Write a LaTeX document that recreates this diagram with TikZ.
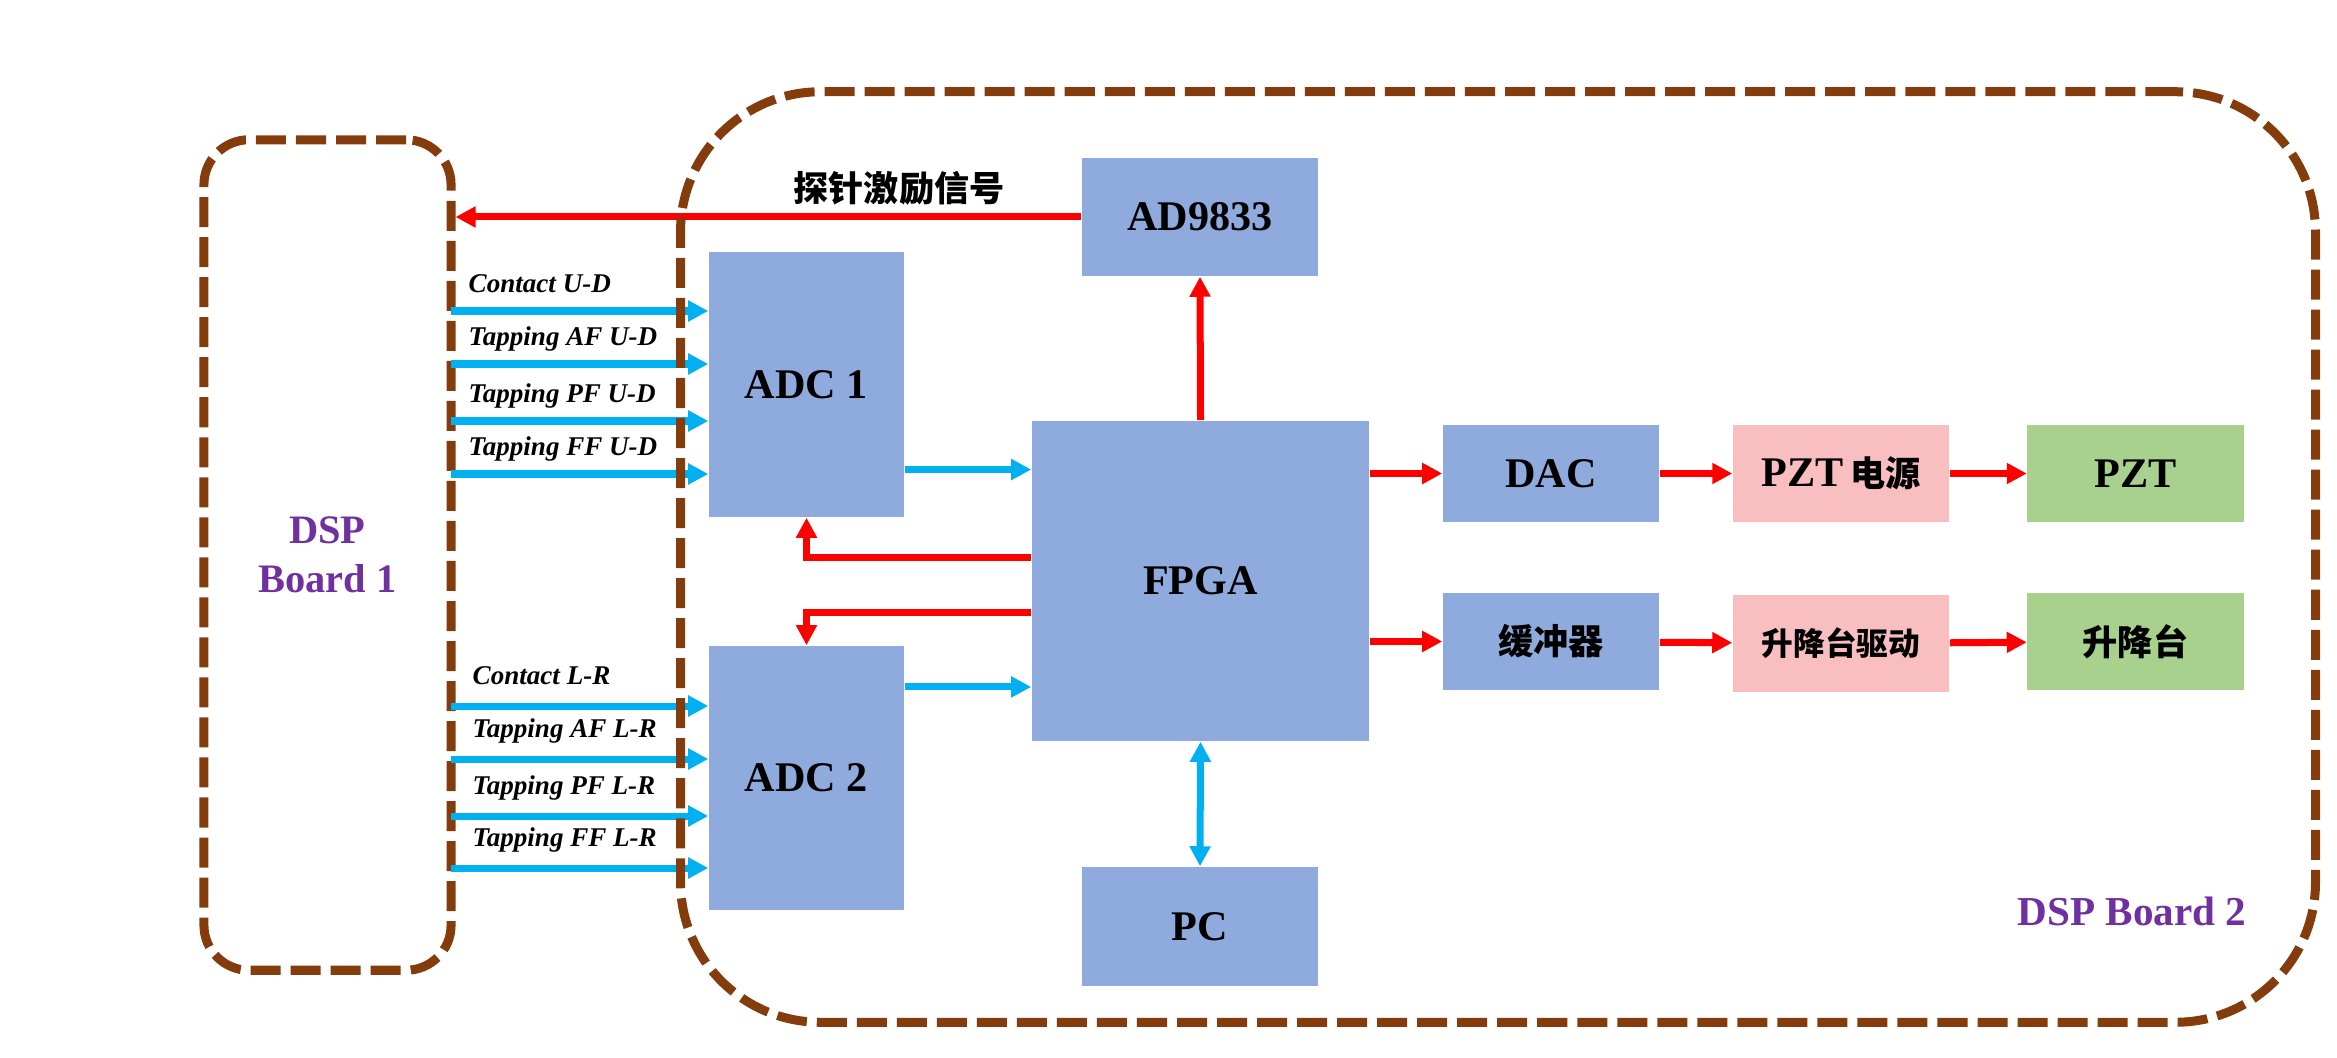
\documentclass[tikz,border=0pt]{standalone}
\usepackage{fontspec}
\setmainfont{Liberation Serif}
\newfontfamily\cjk{Noto Sans CJK SC}
\usepackage{tikz}
\usetikzlibrary{arrows.meta}

\definecolor{boxblue}{HTML}{8FAADC}
\definecolor{boxpink}{HTML}{F8BEC0}
\definecolor{boxgreen}{HTML}{A9D18E}
\definecolor{sigcyan}{HTML}{00B0F0}
\definecolor{boardbrown}{HTML}{843C0C}
\definecolor{boardpurple}{HTML}{7030A0}

\begin{document}
\begin{tikzpicture}[x=0.01cm, y=-0.01cm,
    >={Triangle[length=0.2cm,width=0.2cm]},
    blk/.style={rectangle, fill=boxblue, inner sep=0pt, font=\fontsize{12}{14}\selectfont\bfseries},
    rowblk/.style={blk, minimum width=2.16cm, minimum height=0.96cm},
    board/.style={draw=boardbrown, line width=0.09cm, dash pattern=on 0.3cm off 0.1cm},
    redarr/.style={draw=red, line width=0.07cm, ->},
    cyanarr/.style={draw=sigcyan, line width=0.07cm, ->},
    sig/.style={inner sep=0pt, font=\fontsize{7.7}{9}\selectfont\bfseries\itshape}]
    \useasboundingbox (0,0) rectangle (2337,1058);

    % Boards
    \node[board, rounded corners=0.45cm, minimum width=2.47cm, minimum height=8.3cm,
          align=center, text=boardpurple, font=\fontsize{11.5}{14}\selectfont\bfseries] (DSP1) at (327.5,555) {DSP\\Board 1};

    % Nodes
    \node[blk, minimum width=2.36cm, minimum height=1.18cm] (AD9833) at (1200,217) {AD9833};
    \node[blk, minimum width=1.95cm, minimum height=2.65cm] (ADC1) at (806.5,384.5) {ADC 1};
    \node[blk, minimum width=1.95cm, minimum height=2.64cm] (ADC2) at (806.5,778) {ADC 2};
    \node[blk, minimum width=3.37cm, minimum height=3.2cm] (FPGA) at (1200.5,581) {FPGA};
    \node[blk, minimum width=2.36cm, minimum height=1.19cm] (PC) at (1200,926.5) {PC};

    \node[rowblk] (DAC) at (1551,473.5) {DAC};
    \node[rowblk, fill=boxpink] (PZTPow) at (1841,473.5) {PZT\,{\cjk\fontsize{10}{12}\selectfont 电源}};
    \node[rowblk, fill=boxgreen] (PZT) at (2135.5,473.5) {PZT};
    \node[rowblk] (Buf) at (1551,641.5) {\cjk\fontsize{10}{12}\selectfont 缓冲器};
    \node[rowblk, fill=boxpink] (LiftDrv) at (1841,643.5) {\cjk\fontsize{9}{11}\selectfont 升降台驱动};
    \node[rowblk, fill=boxgreen] (Lift) at (2135.5,641.5) {\cjk\fontsize{10}{12}\selectfont 升降台};

    % Inputs from DSP Board 1
    \foreach \y/\txt [count=\i] in {311/Contact U-D, 364/Tapping AF U-D, 421/Tapping PF U-D, 474/Tapping FF U-D}{
        \coordinate (inU\i) at (451,\y);
        \draw[cyanarr] (inU\i) -- (inU\i -| ADC1.west);
        \node[sig, anchor=base west] (lblU\i) at ([xshift=0.17cm, yshift=0.18cm]inU\i) {\txt};
    }
    \foreach \y/\txt [count=\i] in {706/Contact L-R, 759/Tapping AF L-R, 816/Tapping PF L-R, 868/Tapping FF L-R}{
        \coordinate (inL\i) at (451,\y);
        \draw[cyanarr] (inL\i) -- (inL\i -| ADC2.west);
        \node[sig, anchor=base west] (lblL\i) at ([xshift=0.21cm, yshift=0.21cm]inL\i) {\txt};
    }

    % Edges
    \draw[redarr] (AD9833.west) -- (AD9833.west -| DSP1.east);
    \node[font=\cjk\fontsize{10}{12}\selectfont\bfseries] (lblProbe) at (899,188) {探针激励信号};

    \draw[redarr] (FPGA.north) -- (AD9833.south);
    \draw[redarr] ([yshift=0.23cm]FPGA.west) -| (ADC1.south);
    \draw[redarr] ([yshift=-0.31cm]FPGA.west) -| (ADC2.north);

    \coordinate (a1o) at ([yshift=-0.85cm]ADC1.east);
    \coordinate (a2o) at ([yshift=0.91cm]ADC2.east);
    \draw[cyanarr] (a1o) -- (a1o -| FPGA.west);
    \draw[cyanarr] (a2o) -- (a2o -| FPGA.west);
    \draw[cyanarr, <->] (FPGA.south) -- (PC.north);

    \draw[redarr] (FPGA.east |- DAC.west) -- (DAC.west);
    \draw[redarr] (FPGA.east |- Buf.west) -- (Buf.west);
    \draw[redarr] (DAC) -- (PZTPow);
    \draw[redarr] (PZTPow) -- (PZT);
    \draw[redarr] (Buf) -- (LiftDrv);
    \draw[redarr] (LiftDrv) -- (Lift);

    % DSP Board 2 outline
    \node[board, rounded corners=1.4cm, minimum width=16.34cm, minimum height=9.3cm] (DSP2) at (1498,557) {};
    \node[text=boardpurple, font=\fontsize{11.7}{14}\selectfont\bfseries] (lblDSP2) at (2132,911) {DSP Board 2};
\end{tikzpicture}
\end{document}
